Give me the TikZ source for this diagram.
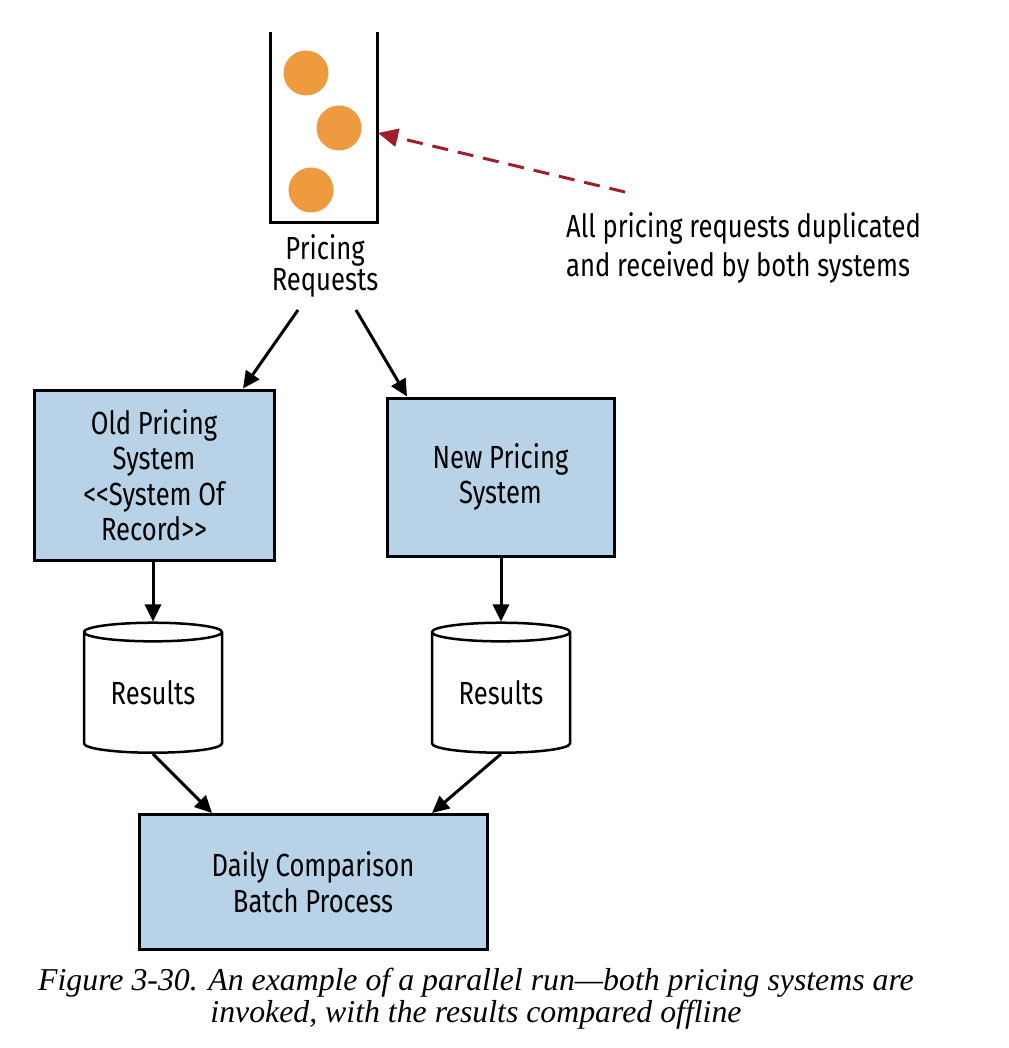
\documentclass[tikz,border=0pt]{standalone}
\usepackage{fontspec}
\setmainfont{Fira Sans}[FakeStretch=0.8]
\newfontfamily\capfont{Liberation Serif}
\usetikzlibrary{arrows.meta,shapes.geometric}
\definecolor{boxblue}{HTML}{B8D3E8}
\definecolor{dotorange}{HTML}{EE9A3E}
\definecolor{darkred}{HTML}{A01E2A}
\tikzset{
  sysbox/.style={draw=black,line width=3pt,fill=boxblue,align=center,font=\fontsize{32}{35.5}\selectfont,inner sep=0pt},
  dbcyl/.style={draw=black,line width=2.5pt,fill=white,cylinder,shape border rotate=90,aspect=0.22,minimum width=138pt,minimum height=130pt,font=\fontsize{32}{35}\selectfont,inner sep=0pt},
  flow/.style={line width=3pt,-{Triangle[length=17pt,width=16pt]}},
  dot/.style={circle,fill=dotorange,minimum size=45pt,inner sep=0pt},
  lbl/.style={align=center,font=\fontsize{32}{31.5}\selectfont,inner sep=0pt}
}
\begin{document}
\begin{tikzpicture}[x=1pt,y=-1pt]
\useasboundingbox (0,0) rectangle (1008,1048);
% queue
\coordinate (qtl) at (270,32);
\coordinate (qtr) at (377,32);
\draw[line width=3pt] (qtl) -- (270,223) -- (377,223) -- (qtr);
\node[dot] (d1) at (306,73) {};
\node[dot] (d2) at (339,128) {};
\node[dot] (d3) at (311,190) {};
\coordinate (qin) at (378,133);
\node[lbl] (preq) at (325,266) {Pricing\\Requests};
% note
\node[lbl,align=left,anchor=west,font=\fontsize{32}{39}\selectfont] (note) at (566,248) {All pricing requests duplicated\\and received by both systems};
\coordinate (nstart) at (625,192);
\draw[darkred,line width=3pt,dash pattern=on 16pt off 10pt,-{Triangle[length=20pt,width=18pt]}] (nstart) -- (qin);
% systems
\node[sysbox,minimum width=240pt,minimum height=170pt] (old) at (154,475) {Old Pricing\\System\\<{}<System Of\\Record>{}>};
\node[sysbox,minimum width=227pt,minimum height=158pt] (new) at (500.5,477) {New Pricing\\System};
\coordinate (pl) at (298,310);
\coordinate (pr) at (356,310);
\draw[flow] (pl) -- (old.north -| 243,0);
\draw[flow] (pr) -- (new.north -| 407,0);
% databases
\node[dbcyl] (r1) at (153,693) {\raisebox{-6pt}{Results}};
\node[dbcyl] (r2) at (501,693) {\raisebox{-6pt}{Results}};
\draw[flow] (old.south -| r1.north) -- (r1.north);
\draw[flow] (new.south -| r2.north) -- (r2.north);
% batch
\node[sysbox,minimum width=348pt,minimum height=135pt] (batch) at (313,882) {Daily Comparison\\Batch Process};
\draw[flow] (r1.south) -- (batch.north -| 212,0);
\draw[flow] (r2.south) -- (batch.north -| 432,0);
% caption
\node[align=center,font=\capfont\itshape\fontsize{31.8}{32}\selectfont,inner sep=0pt] (cap) at (476,999) {Figure 3-30. An example of a parallel run\textemdash both pricing systems are\\invoked, with the results compared offline};
\end{tikzpicture}
\end{document}
